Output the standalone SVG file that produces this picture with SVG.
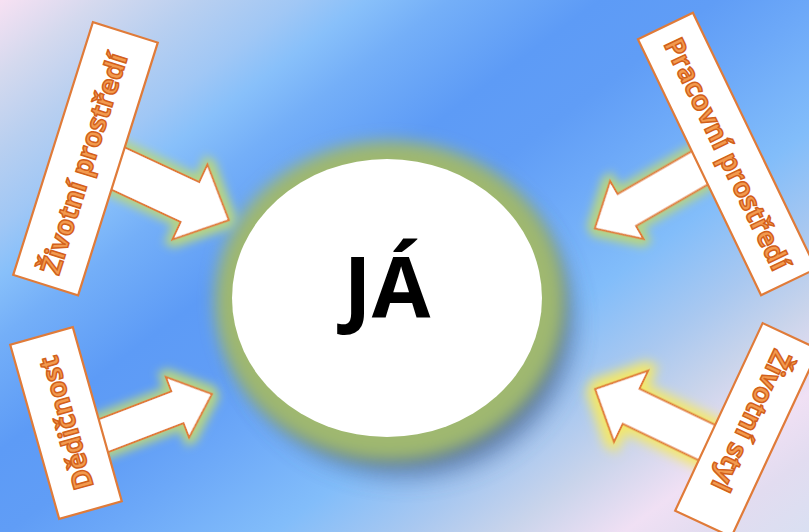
<svg xmlns="http://www.w3.org/2000/svg" width="809" height="532" viewBox="0 0 809 532">
  <defs>
    <linearGradient id="bg" gradientUnits="userSpaceOnUse" x1="0" y1="0" x2="600" y2="800">
      <stop offset="0" stop-color="#f7e1f3"/>
      <stop offset="0.06" stop-color="#d4d9ee"/>
      <stop offset="0.12" stop-color="#b8cff0"/>
      <stop offset="0.18" stop-color="#a0c7f5"/>
      <stop offset="0.22" stop-color="#88c0fa"/>
      <stop offset="0.27" stop-color="#74aff8"/>
      <stop offset="0.36" stop-color="#5d9bf6"/>
      <stop offset="0.43" stop-color="#609df6"/>
      <stop offset="0.49" stop-color="#6ca8f8"/>
      <stop offset="0.59" stop-color="#82bdfa"/>
      <stop offset="0.67" stop-color="#a9c8f0"/>
      <stop offset="0.73" stop-color="#c9d4eb"/>
      <stop offset="0.80" stop-color="#f0e0f4"/>
      <stop offset="0.85" stop-color="#e2dcf0"/>
      <stop offset="0.92" stop-color="#d8e0f2"/>
    </linearGradient>
    <filter id="glowG" x="-30%" y="-30%" width="160%" height="160%">
      <feMorphology in="SourceAlpha" operator="dilate" radius="5" result="d"/>
      <feGaussianBlur in="d" stdDeviation="5" result="b"/>
      <feFlood flood-color="#b6d583" flood-opacity="1"/>
      <feComposite in2="b" operator="in" result="g"/>
      <feMerge><feMergeNode in="g"/><feMergeNode in="SourceGraphic"/></feMerge>
    </filter>
    <filter id="glowY" x="-30%" y="-30%" width="160%" height="160%">
      <feMorphology in="SourceAlpha" operator="dilate" radius="6" result="d"/>
      <feGaussianBlur in="d" stdDeviation="6" result="b"/>
      <feFlood flood-color="#f4e868" flood-opacity="1"/>
      <feComposite in2="b" operator="in" result="g"/>
      <feMerge><feMergeNode in="g"/><feMergeNode in="SourceGraphic"/></feMerge>
    </filter>
    <filter id="blur14" x="-30%" y="-30%" width="160%" height="160%">
      <feGaussianBlur stdDeviation="14"/>
    </filter>
    <filter id="blur8" x="-30%" y="-30%" width="160%" height="160%">
      <feGaussianBlur stdDeviation="8"/>
    </filter>
    <style>
      .arrow { fill: #ffffff; stroke: #e07b39; stroke-width: 2; stroke-linejoin: miter; }
      .box { fill: #ffffff; stroke: #e07b39; stroke-width: 2.2; }
      .lbl { font-family: "Open Sans", "Noto Sans", sans-serif; font-weight: bold; font-size: 27.5px; fill: #f29a4e; stroke: #d2601a; stroke-width: 1.5; text-anchor: middle; }
      .ja { font-family: "Open Sans", "Noto Sans", sans-serif; font-weight: bold; font-size: 85px; fill: #000000; text-anchor: middle; }
    </style>
  </defs>

  <rect x="0" y="0" width="809" height="532" fill="url(#bg)"/>

  <g id="node-ja">
    <ellipse cx="406" cy="323" rx="164" ry="150" fill="#46618f" opacity="0.85" filter="url(#blur14)"/>
    <ellipse cx="390" cy="301" rx="175" ry="160" fill="#9fb86f" filter="url(#blur8)"/>
    <ellipse cx="387" cy="298" rx="155" ry="139" fill="#ffffff"/>
    <text class="ja" x="387" y="317">JÁ</text>
  </g>

  <g id="connectors">
    <polygon class="arrow" filter="url(#glowG)" transform="translate(102,161) rotate(25)" points="0,-22 97,-22 97,-41.5 140,0 97,41.5 97,22 0,22"/>
    <polygon class="arrow" filter="url(#glowG)" transform="translate(716,158.5) rotate(150)" points="0,-18.5 103,-18.5 103,-33.5 140,0 103,33.5 103,18.5 0,18.5"/>
    <polygon class="arrow" filter="url(#glowG)" transform="translate(90.6,440.6) rotate(-21)" points="0,-17 93,-17 93,-32.5 130,0 93,32.5 93,17 0,17"/>
    <polygon class="arrow" filter="url(#glowY)" transform="translate(730.3,453.8) rotate(205.6)" points="0,-19.5 110,-19.5 110,-39.5 150,0 110,39.5 110,19.5 0,19.5"/>
  </g>

  <g id="node-zivotni-prostredi" transform="translate(85.5,158.75) rotate(-72.5)">
    <rect class="box" x="-132.5" y="-34" width="265" height="68"/>
    <text class="lbl" x="-5" y="0" dy="0.35em">Životní prostředí</text>
  </g>

  <g id="node-pracovni-prostredi" transform="translate(727,154) rotate(64.3)">
    <rect class="box" x="-142" y="-30.5" width="284" height="61"/>
    <text class="lbl" x="0" y="0" dy="0.35em">Pracovní prostředí</text>
  </g>

  <g id="node-dedicnost" transform="translate(66,423) rotate(-105.7)">
    <rect class="box" x="-90.5" y="-32.5" width="181" height="65"/>
    <text class="lbl" x="0" y="0" dy="0.35em">Dědičnost</text>
  </g>

  <g id="node-zivotni-styl" transform="translate(747,430) rotate(115)">
    <rect class="box" x="-103.5" y="-31" width="207" height="62"/>
    <text class="lbl" x="-10" y="0" dy="0.35em">Životní styl</text>
  </g>
</svg>
